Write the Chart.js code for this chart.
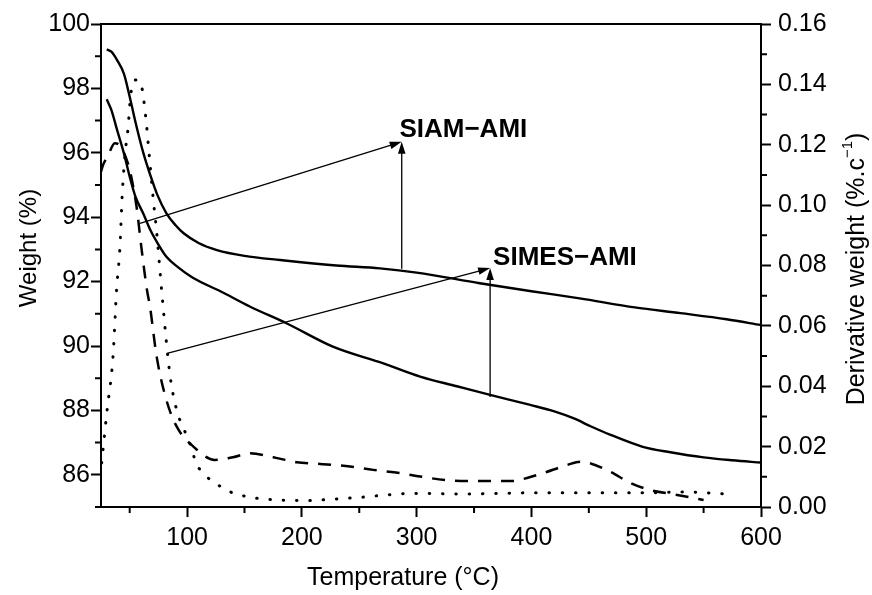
<!DOCTYPE html>
<html>
<head>
    <meta charset="UTF-8">
    <title>TGA / DTG - SIAM-AMI and SIMES-AMI</title>
    <script src="https://cdn.jsdelivr.net/npm/chart.js@4.4.1/dist/chart.umd.min.js"></script>
    <style>
        body { margin: 0; background: #fff; }
    </style>
</head>
<body>
    <canvas id="myChart" width="872" height="595"></canvas>

    <script>
        // weight curves (left axis)
        var siamT  = [30, 34, 39, 45, 50, 56, 62, 68, 74, 82, 90, 97, 110, 126, 150, 181, 230, 268, 300, 355, 400, 442, 490, 530, 570, 600];
        var siamW  = [99.21, 99.14, 98.88, 98.45, 97.74, 96.81, 95.98, 95.3, 94.7, 94.12, 93.75, 93.5, 93.2, 92.98, 92.8, 92.67, 92.5, 92.41, 92.28, 91.95, 91.7, 91.48, 91.2, 91.02, 90.83, 90.65];
        var simesT = [30, 34, 39, 45, 50, 55, 62, 68, 75, 82, 92, 105, 129, 155, 187, 227, 271, 303, 335, 364, 399, 420, 437, 452, 469, 497, 521, 550, 575, 600];
        var simesW = [97.66, 97.33, 96.71, 95.98, 95.26, 94.64, 94.1, 93.6, 93.15, 92.77, 92.45, 92.12, 91.7, 91.22, 90.7, 89.98, 89.46, 89.05, 88.75, 88.48, 88.17, 87.97, 87.75, 87.5, 87.24, 86.87, 86.7, 86.54, 86.45, 86.38];

        // derivative curves (right axis)
        var dotT  = [25.6, 30, 35.5, 38.6, 41.5, 43.5, 46, 48.7, 50.5, 53, 57, 60, 62, 64.8, 67, 70.5, 73.5, 78, 85, 91, 97, 102.5, 108, 117, 127, 137, 157, 181, 204, 227, 251, 274, 297, 344, 400, 450, 500, 532, 570];
        var dotD  = [0.0146, 0.031, 0.05, 0.072, 0.086, 0.1035, 0.117, 0.126, 0.135, 0.141, 0.1415, 0.14, 0.1355, 0.126, 0.1166, 0.102, 0.091, 0.071, 0.044, 0.032, 0.026, 0.021, 0.0145, 0.0101, 0.0073, 0.0051, 0.0031, 0.0023, 0.0021, 0.0026, 0.0032, 0.004, 0.0045, 0.0043, 0.0047, 0.0047, 0.0047, 0.005, 0.0043];
        var dashT = [25, 27, 31, 37, 42, 47.4, 50, 56, 60.5, 65, 67.7, 73.5, 82, 91, 105.5, 124, 140, 155, 175, 195.5, 218, 242, 262, 286, 303, 326, 349, 384, 393, 410, 431, 442.5, 451, 468.6, 486, 503.5, 527, 550];
        var dashD = [0.111, 0.1135, 0.1163, 0.1205, 0.1195, 0.115, 0.1117, 0.0994, 0.085, 0.072, 0.0663, 0.0498, 0.0354, 0.0266, 0.02, 0.0156, 0.0165, 0.0178, 0.0165, 0.0148, 0.0142, 0.0134, 0.0123, 0.0112, 0.0101, 0.0089, 0.0086, 0.0086, 0.0093, 0.0112, 0.0139, 0.015, 0.0145, 0.0117, 0.008, 0.0056, 0.004, 0.0023];

        // ticks
        var xMajor = [100, 200, 300, 400, 500, 600];
        var xMinor = [50, 150, 250, 350, 450, 550];
        var wMajor = [86, 88, 90, 92, 94, 96, 98, 100];
        var wMinor = [85, 87, 89, 91, 93, 95, 97, 99];
        var dMajor = [0, 0.02, 0.04, 0.06, 0.08, 0.10, 0.12, 0.14, 0.16];
        var dMinor = [0.01, 0.03, 0.05, 0.07, 0.09, 0.11, 0.13, 0.15];

        // annotations: label, text position, arrow start, arrow tip, vertical arrow base (data units)
        var noteText  = ['SIAM\u2212AMI', 'SIMES\u2212AMI'];
        var noteT     = [285, 366.6];
        var noteW     = [96.49, 92.52];
        var arrowFrom = [[59, 93.81], [83.4, 89.78]];
        var arrowTip  = [[287, 96.34], [364, 92.42]];
        var arrowBase = [[287, 92.4], [364, 88.42]];

        var FONT = '"Liberation Sans", Arial, sans-serif';

        function pts(xs, ys) {
            return xs.map(function(v, i) { return {x: v, y: ys[i]}; });
        }

        function arrow(ctx, x0, y0, x1, y1) {
            var a = Math.atan2(y1 - y0, x1 - x0);
            var len = 12, hw = 3.8;
            ctx.beginPath();
            ctx.moveTo(x0, y0);
            ctx.lineTo(x1 - Math.cos(a) * len * 0.8, y1 - Math.sin(a) * len * 0.8);
            ctx.stroke();
            ctx.beginPath();
            ctx.moveTo(x1, y1);
            ctx.lineTo(x1 - Math.cos(a) * len - Math.sin(a) * hw, y1 - Math.sin(a) * len + Math.cos(a) * hw);
            ctx.lineTo(x1 - Math.cos(a) * len + Math.sin(a) * hw, y1 - Math.sin(a) * len - Math.cos(a) * hw);
            ctx.closePath();
            ctx.fill();
        }

        var decor = {
            id: 'decor',
            afterDraw: function(chart) {
                var ctx = chart.ctx, a = chart.chartArea;
                var x = chart.scales.x, y = chart.scales.y, y1 = chart.scales.y1;
                ctx.save();
                ctx.strokeStyle = '#000';
                ctx.fillStyle = '#000';

                // top frame
                ctx.lineWidth = 2;
                ctx.beginPath();
                ctx.moveTo(a.left - 1, a.top);
                ctx.lineTo(a.right + 1, a.top);
                ctx.stroke();

                // minor ticks
                ctx.beginPath();
                xMinor.forEach(function(v) {
                    var px = x.getPixelForValue(v);
                    ctx.moveTo(px, a.bottom); ctx.lineTo(px, a.bottom + 6);
                });
                wMinor.forEach(function(v) {
                    var py = y.getPixelForValue(v);
                    ctx.moveTo(a.left, py); ctx.lineTo(a.left - 6, py);
                });
                dMinor.forEach(function(v) {
                    var py = y1.getPixelForValue(v);
                    ctx.moveTo(a.right, py); ctx.lineTo(a.right + 6, py);
                });
                ctx.stroke();

                // annotations
                ctx.lineWidth = 1.3;
                for (var i = 0; i < noteText.length; i++) {
                    var tx = x.getPixelForValue(arrowTip[i][0]), ty = y.getPixelForValue(arrowTip[i][1]);
                    arrow(ctx, x.getPixelForValue(arrowFrom[i][0]), y.getPixelForValue(arrowFrom[i][1]), tx, ty);
                    arrow(ctx, x.getPixelForValue(arrowBase[i][0]), y.getPixelForValue(arrowBase[i][1]), tx, ty);
                    ctx.font = 'bold 26px ' + FONT;
                    ctx.textAlign = 'left';
                    ctx.textBaseline = 'alphabetic';
                    ctx.fillText(noteText[i], x.getPixelForValue(noteT[i]), y.getPixelForValue(noteW[i]));
                }

                // axis titles
                ctx.textBaseline = 'middle';
                ctx.textAlign = 'center';
                ctx.font = '25px ' + FONT;
                ctx.fillText('Temperature (\u00B0C)', 403, 578);

                ctx.save();
                ctx.translate(29, 248);
                ctx.rotate(-Math.PI / 2);
                ctx.font = '24px ' + FONT;
                ctx.fillText('Weight (%)', 0, 0);
                ctx.restore();

                ctx.save();
                ctx.translate(857, 269);
                ctx.rotate(-Math.PI / 2);
                ctx.font = '25px ' + FONT;
                var p1 = 'Derivative weight (%.c', sup = '\u22121', p2 = ')';
                var w1 = ctx.measureText(p1).width, w2 = ctx.measureText(p2).width;
                ctx.font = '15px ' + FONT;
                var ws = ctx.measureText(sup).width;
                var start = -(w1 + ws + w2) / 2;
                ctx.textAlign = 'left';
                ctx.font = '25px ' + FONT;
                ctx.fillText(p1, start, 0);
                ctx.font = '15px ' + FONT;
                ctx.fillText(sup, start + w1, -9);
                ctx.font = '25px ' + FONT;
                ctx.fillText(p2, start + w1 + ws, 0);
                ctx.restore();

                ctx.restore();
            }
        };

        function axis(pos, min, max, major, size, pad, fmt) {
            return {
                type: 'linear',
                position: pos,
                min: min,
                max: max,
                grid: { drawOnChartArea: false, tickLength: 10, tickWidth: 2, tickColor: '#000' },
                border: { color: '#000', width: 2 },
                ticks: {
                    color: '#000',
                    font: { family: FONT, size: 25 },
                    padding: pad,
                    autoSkip: false,
                    maxRotation: 0,
                    callback: fmt
                },
                afterBuildTicks: function(s) {
                    s.ticks = major.map(function(v) { return {value: v}; });
                },
                afterFit: function(s) {
                    if (pos === 'bottom') { s.height = size; } else { s.width = size; }
                }
            };
        }

        var mychart = new Chart('myChart', {
            type: 'line',
            data: {
                datasets: [
                    { label: 'SIAM-AMI', data: pts(siamT, siamW), yAxisID: 'y', borderColor: '#000', borderWidth: 2.4, pointRadius: 0, cubicInterpolationMode: 'monotone' },
                    { label: 'SIMES-AMI', data: pts(simesT, simesW), yAxisID: 'y', borderColor: '#000', borderWidth: 2.4, pointRadius: 0, cubicInterpolationMode: 'monotone' },
                    { label: 'DTG dotted', data: pts(dotT, dotD), yAxisID: 'y1', borderColor: '#000', borderWidth: 3, borderDash: [0.5, 12.8], borderCapStyle: 'round', pointRadius: 0, cubicInterpolationMode: 'monotone' },
                    { label: 'DTG dashed', data: pts(dashT, dashD), yAxisID: 'y1', borderColor: '#000', borderWidth: 2.5, borderDash: [13, 10], pointRadius: 0, cubicInterpolationMode: 'monotone' }
                ]
            },
            options: {
                responsive: false,
                animation: false,
                devicePixelRatio: 1,
                layout: { padding: { top: 24, left: 0, right: 0, bottom: 0 } },
                plugins: { legend: { display: false }, tooltip: { enabled: false } },
                scales: {
                    x: axis('bottom', 25, 600, xMajor, 88, 6, function(v) { return String(v); }),
                    y: axis('left', 85, 100, wMajor, 101, 1, function(v) { return String(v); }),
                    y1: axis('right', 0, 0.16, dMajor, 111, 7, function(v) { return v.toFixed(2); })
                }
            },
            plugins: [decor]
        });
    </script>
</body>
</html>
